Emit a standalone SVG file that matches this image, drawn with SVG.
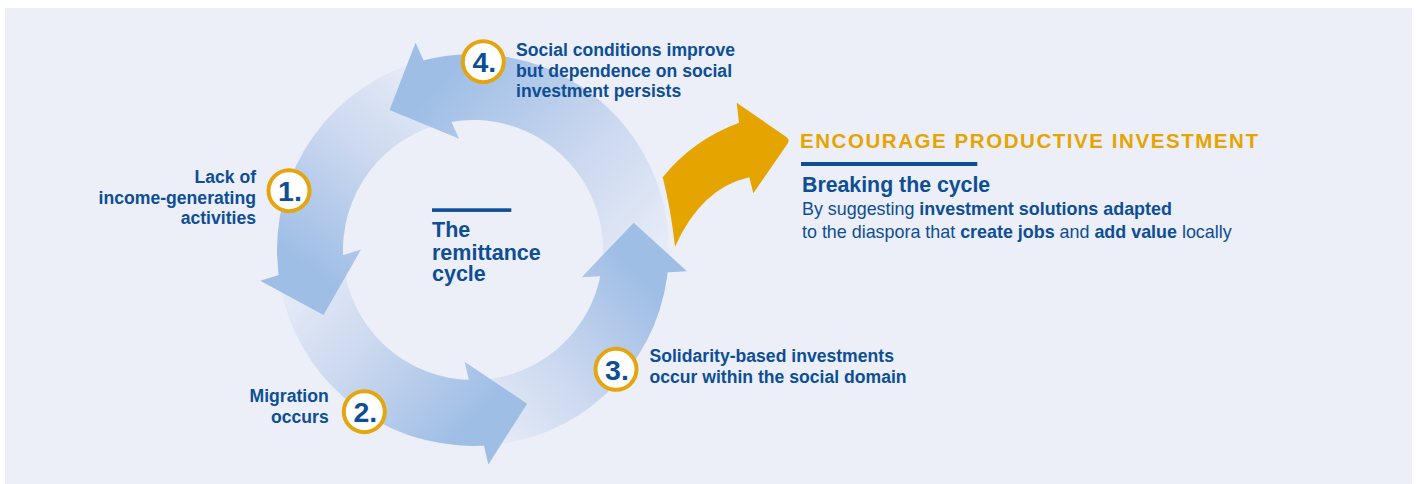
<svg xmlns="http://www.w3.org/2000/svg" width="1416" height="484" viewBox="0 0 1416 484">
<defs>
<style>
.lbl{font-family:"Liberation Sans",Arial,sans-serif;font-weight:bold;font-size:17.6px;fill:#0D4E94}
.num{font-family:"Liberation Sans",Arial,sans-serif;font-weight:bold;font-size:28.5px;fill:#0D4E94;text-anchor:middle}
.badge{fill:#FFFFFF;stroke:#E5A50E;stroke-width:4}
.reg{font-family:"Liberation Sans",Arial,sans-serif;font-size:17.9px;fill:#0D4E94}
.b{font-weight:bold}
</style>
<linearGradient id="g4" gradientUnits="userSpaceOnUse" x1="633.35" y1="279.28" x2="434.1" y2="91.7">
<stop offset="0" stop-color="#E6EBF7"/><stop offset="0.45" stop-color="#CBD8EF"/><stop offset="1" stop-color="#9FBEE6"/>
</linearGradient>
<linearGradient id="g1" gradientUnits="userSpaceOnUse" x1="442.46" y1="89.89" x2="311.05" y2="268.45">
<stop offset="0" stop-color="#E6EBF7"/><stop offset="0.45" stop-color="#CBD8EF"/><stop offset="1" stop-color="#9FBEE6"/>
</linearGradient>
<linearGradient id="g2" gradientUnits="userSpaceOnUse" x1="310.30" y1="259.95" x2="479.83" y2="412.86">
<stop offset="0" stop-color="#E6EBF7"/><stop offset="0.45" stop-color="#CBD8EF"/><stop offset="1" stop-color="#9FBEE6"/>
</linearGradient>
<linearGradient id="g3" gradientUnits="userSpaceOnUse" x1="471.29" y1="412.99" x2="634.66" y2="270.85">
<stop offset="0" stop-color="#E6EBF7"/><stop offset="0.45" stop-color="#CBD8EF"/><stop offset="1" stop-color="#9FBEE6"/>
</linearGradient>
</defs>

<rect x="5" y="8" width="1407" height="476" fill="#ECEFF8"/>

<g id="cycle">
<path fill="url(#g4)" d="M668.79,259.06 A196,196 0 0 0 410.81,64.13 L446.41,122.75 A130,130 0 0 1 601.27,271.12 Z"/>
<path fill="url(#g1)" d="M410.81,64.13 A196,196 0 0 0 280.73,288.07 L343.40,260.20 A130,130 0 0 1 446.41,122.75 Z"/>
<path fill="url(#g2)" d="M280.73,288.07 A196,196 0 0 0 497.23,444.50 L473.91,380.00 A130,130 0 0 1 343.40,260.20 Z"/>
<path fill="url(#g3)" d="M497.23,444.50 A196,196 0 0 0 668.79,259.06 L601.27,271.12 A130,130 0 0 1 473.91,380.00 Z"/>
<polygon fill="url(#g4)" points="415.54,42.82 389.53,109.99 459.16,138.86"/>
<polygon fill="url(#g1)" points="260.20,280.67 323.52,315.00 361.00,249.61"/>
<polygon fill="url(#g2)" points="488.37,464.45 527.14,403.74 464.60,361.69"/>
<polygon fill="url(#g3)" points="686.96,271.17 633.69,222.68 581.65,277.19"/>
</g>

<g id="center-title">
<rect x="432" y="208.3" width="79.3" height="3.6" fill="#0D4E94"/>
<text class="lbl" style="font-size:21.5px" x="432" y="236.5">The</text>
<text class="lbl" style="font-size:21.5px" x="432" y="259.5">remittance</text>
<text class="lbl" style="font-size:21.5px" x="432" y="281">cycle</text>
</g>

<g id="step1">
<circle class="badge" cx="289" cy="190.7" r="20.5"/>
<text class="num" x="290" y="201">1.</text>
<text class="lbl" text-anchor="end" x="256" y="183.3">Lack of</text>
<text class="lbl" text-anchor="end" x="256" y="203.7">income-generating</text>
<text class="lbl" text-anchor="end" x="256" y="224">activities</text>
</g>

<g id="step2">
<circle class="badge" cx="364.3" cy="411.7" r="20.5"/>
<text class="num" x="365.3" y="422">2.</text>
<text class="lbl" text-anchor="end" x="328.7" y="402.3">Migration</text>
<text class="lbl" text-anchor="end" x="328.7" y="423.3">occurs</text>
</g>

<g id="step3">
<circle class="badge" cx="616" cy="369.3" r="20.5"/>
<text class="num" x="617" y="379.6">3.</text>
<text class="lbl" x="649.5" y="362.3">Solidarity-based investments</text>
<text class="lbl" x="649.5" y="383.3">occur within the social domain</text>
</g>

<g id="step4">
<circle class="badge" cx="483.3" cy="61.7" r="20.5"/>
<text class="num" x="484.3" y="72">4.</text>
<text class="lbl" x="516" y="56">Social conditions improve</text>
<text class="lbl" x="516" y="76.5">but dependence on social</text>
<text class="lbl" x="516" y="97">investment persists</text>
</g>

<g id="break-arrow">
<path fill="#E6A400" d="M662.7,177.3 Q692.5,140 739,122.7 L736.7,102.7 L787,137.5 Q789.5,140 788,143 L753.3,193.3 L749.3,177.3 Q701.3,188 675,246.7 Q671,210 662.7,177.3 Z"/>
</g>

<g id="break-text">
<text x="800" y="148.3" textLength="458" lengthAdjust="spacing" style="font-family:'Liberation Sans',Arial,sans-serif;font-weight:bold;font-size:20.5px;fill:#E6A400">ENCOURAGE PRODUCTIVE INVESTMENT</text>
<rect x="801" y="162" width="176.3" height="4" fill="#0D4E94"/>
<text class="lbl" style="font-size:21.3px" x="802" y="191.7">Breaking the cycle</text>
<text class="reg" x="802" y="215">By suggesting <tspan class="b">investment solutions adapted</tspan></text>
<text class="reg" x="802" y="238">to the diaspora that <tspan class="b">create jobs</tspan> and <tspan class="b">add value</tspan> locally</text>
</g>
</svg>
